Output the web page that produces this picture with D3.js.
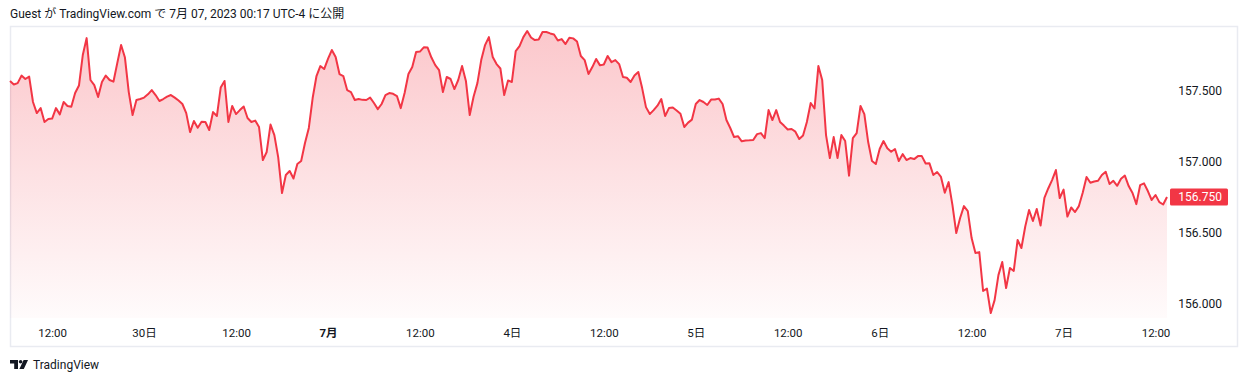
<!DOCTYPE html>
<html>
<head>
<meta charset="utf-8">
<script src="https://cdn.jsdelivr.net/npm/d3@7"></script>
<style>
  html, body { margin: 0; padding: 0; background: #ffffff; }
  svg { display: block; font-family: Roboto, "Noto Sans CJK JP", sans-serif; }
</style>
</head>
<body>
<svg id="chart" width="1248" height="382"></svg>
<script>
// ---- data (USD/JPY style, 30-minute bars, JST) ----
const prices = [
157.567,157.542,157.552,157.605,157.581,157.598,157.419,157.341,157.376,157.278,
157.299,157.302,157.376,157.332,157.419,157.391,157.386,157.482,157.535,157.750,
157.869,157.574,157.538,157.454,157.560,157.605,157.574,157.562,157.693,157.820,
157.732,157.489,157.327,157.433,157.440,157.450,157.473,157.503,157.468,157.426,
157.440,157.457,157.468,157.450,157.429,157.405,157.341,157.207,157.285,157.238,
157.280,157.278,157.222,157.348,157.320,157.521,157.567,157.278,157.391,157.334,
157.362,157.387,157.306,157.278,157.288,157.243,157.010,157.067,157.260,157.186,
157.031,156.778,156.905,156.933,156.880,156.982,157.003,157.130,157.236,157.447,
157.602,157.672,157.651,157.722,157.785,157.736,157.616,157.602,157.503,157.489,
157.433,157.440,157.434,157.433,157.450,157.412,157.369,157.405,157.468,157.482,
157.477,157.461,157.376,157.482,157.616,157.665,157.771,157.774,157.804,157.802,
157.732,157.679,157.644,157.489,157.595,157.581,157.510,157.574,157.672,157.567,
157.327,157.456,157.552,157.714,157.820,157.876,157.736,157.686,157.655,157.468,
157.570,157.560,157.778,157.813,157.876,157.919,157.873,157.855,157.859,157.912,
157.912,157.902,157.895,157.852,157.862,157.827,157.872,157.867,157.845,157.743,
157.714,157.616,157.665,157.722,157.677,157.683,157.743,157.700,157.714,157.686,
157.595,157.590,157.560,157.605,157.630,157.517,157.383,157.334,157.362,157.393,
157.440,157.320,157.376,157.380,157.359,157.336,157.243,157.274,157.295,157.405,
157.433,157.419,157.398,157.436,157.436,157.443,157.405,157.292,157.236,157.172,
157.178,157.142,157.148,157.149,157.151,157.193,157.200,157.165,157.362,157.292,
157.362,157.278,157.253,157.225,157.229,157.210,157.158,157.183,157.278,157.412,
157.373,157.672,157.574,157.186,157.024,157.172,157.024,157.186,157.144,156.900,
157.165,157.200,157.391,157.334,157.137,157.003,156.982,157.088,157.144,157.093,
157.069,157.088,157.003,157.052,157.010,157.024,157.017,157.038,157.038,156.986,
156.987,156.905,156.926,156.891,156.780,156.855,156.693,156.496,156.602,156.686,
156.651,156.461,156.355,156.362,156.088,156.105,155.933,156.024,156.200,156.292,
156.109,156.250,156.229,156.447,156.391,156.542,156.658,156.581,156.665,156.549,
156.743,156.810,156.869,156.940,156.743,156.802,156.612,156.676,156.644,156.686,
156.780,156.891,156.850,156.859,156.864,156.905,156.928,156.841,156.864,156.829,
156.879,156.901,156.827,156.778,156.700,156.834,156.846,156.792,156.729,156.764,
156.714,156.697,156.750
];
const xTickIndex  = [11, 35, 59, 83, 107, 131, 155, 179, 203, 227, 251, 275, 299];
const xTickLabels = ["12:00","30日","12:00","7月","12:00","4日","12:00","5日","12:00","6日","12:00","7日","12:00"];
const xTickBold   = ["7月"];
const yTickValues = [156.0, 156.5, 157.0, 157.5];
const headerText  = "Guest が TradingView.com で 7月 07, 2023 00:17 UTC-4 に公開";
const brandText   = "TradingView";

// ---- layout ----
const W = 1248, H = 382;
const frame = {left: 10, top: 26, right: 1238, bottom: 347};
const plot  = {left: 10, right: 1167, top: 27, bottom: 318};
const lineColor = "#f23645";
const textColor = "#131722";

const svg = d3.select("#chart");

const x = d3.scaleLinear().domain([0, prices.length - 1]).range([plot.left, plot.right]);
const y = d3.scaleLinear().domain([156.0, 157.5]).range([303.5, 90.5]);

// header
svg.append("text")
  .attr("x", 10).attr("y", 18)
  .attr("font-size", 12).attr("fill", textColor)
  .text(headerText);

// frame
svg.append("rect")
  .attr("x", frame.left + 0.5).attr("y", frame.top + 0.5)
  .attr("width", frame.right - frame.left - 1).attr("height", frame.bottom - frame.top - 1)
  .attr("fill", "none").attr("stroke", "#e9ebf1").attr("stroke-width", 1.5);

// gradient
const defs = svg.append("defs");
const grad = defs.append("linearGradient")
  .attr("id", "areaGrad").attr("gradientUnits", "userSpaceOnUse")
  .attr("x1", 0).attr("x2", 0).attr("y1", plot.top).attr("y2", plot.bottom);
grad.append("stop").attr("offset", 0).attr("stop-color", lineColor).attr("stop-opacity", 0.28);
grad.append("stop").attr("offset", 1).attr("stop-color", lineColor).attr("stop-opacity", 0.02);

const area = d3.area()
  .x((d, i) => x(i))
  .y0(plot.bottom)
  .y1(d => y(d));
const line = d3.line()
  .x((d, i) => x(i))
  .y(d => y(d));

svg.append("path").datum(prices)
  .attr("d", area).attr("fill", "url(#areaGrad)");
svg.append("path").datum(prices)
  .attr("d", line).attr("fill", "none")
  .attr("stroke", lineColor).attr("stroke-width", 2)
  .attr("stroke-linejoin", "round");

// y axis (price scale)
const yAxis = d3.axisRight(y).tickValues(yTickValues).tickFormat(d3.format(".3f")).tickSize(0);
const yg = svg.append("g").attr("transform", "translate(1222,0)").call(yAxis);
yg.select(".domain").remove();
yg.selectAll("text")
  .attr("x", 0).attr("text-anchor", "end")
  .attr("font-size", 12).attr("fill", textColor)
  .attr("font-family", "Roboto, sans-serif");

// last price tag
const last = prices[prices.length - 1];
svg.append("rect")
  .attr("x", 1170).attr("y", y(last) - 8.5)
  .attr("width", 58).attr("height", 17)
  .attr("rx", 1.5).attr("fill", lineColor);
svg.append("text")
  .attr("x", 1222).attr("y", y(last))
  .attr("dy", "0.35em").attr("text-anchor", "end")
  .attr("font-size", 12).attr("fill", "#ffffff")
  .text(d3.format(".3f")(last));

// x axis (time scale)
const xAxis = d3.axisBottom(x).tickValues(xTickIndex)
  .tickFormat((d, i) => xTickLabels[i]).tickSize(0);
const xg = svg.append("g").attr("transform", `translate(0,${plot.bottom})`).call(xAxis);
xg.select(".domain").remove();
xg.selectAll("text")
  .attr("y", 15).attr("dy", "0.35em")
  .attr("font-size", 11.5).attr("fill", textColor)
  .attr("font-family", "Roboto, 'Noto Sans CJK JP', sans-serif")
  .attr("font-weight", (d, i) => xTickBold.includes(xTickLabels[i]) ? "bold" : "normal");

// brand logo
const logo = svg.append("g").attr("transform", "translate(10,360)").attr("fill", textColor);
logo.append("path").attr("d", "M0 0 H8 V9 H4.2 V3.6 H0 Z");
logo.append("circle").attr("cx", 10.6).attr("cy", 1.8).attr("r", 1.8);
logo.append("path").attr("d", "M13.6 0 H18 L13.8 9 H9.4 Z");
svg.append("text")
  .attr("x", 33).attr("y", 369)
  .attr("font-size", 12).attr("fill", textColor)
  .text(brandText);
</script>
</body>
</html>
